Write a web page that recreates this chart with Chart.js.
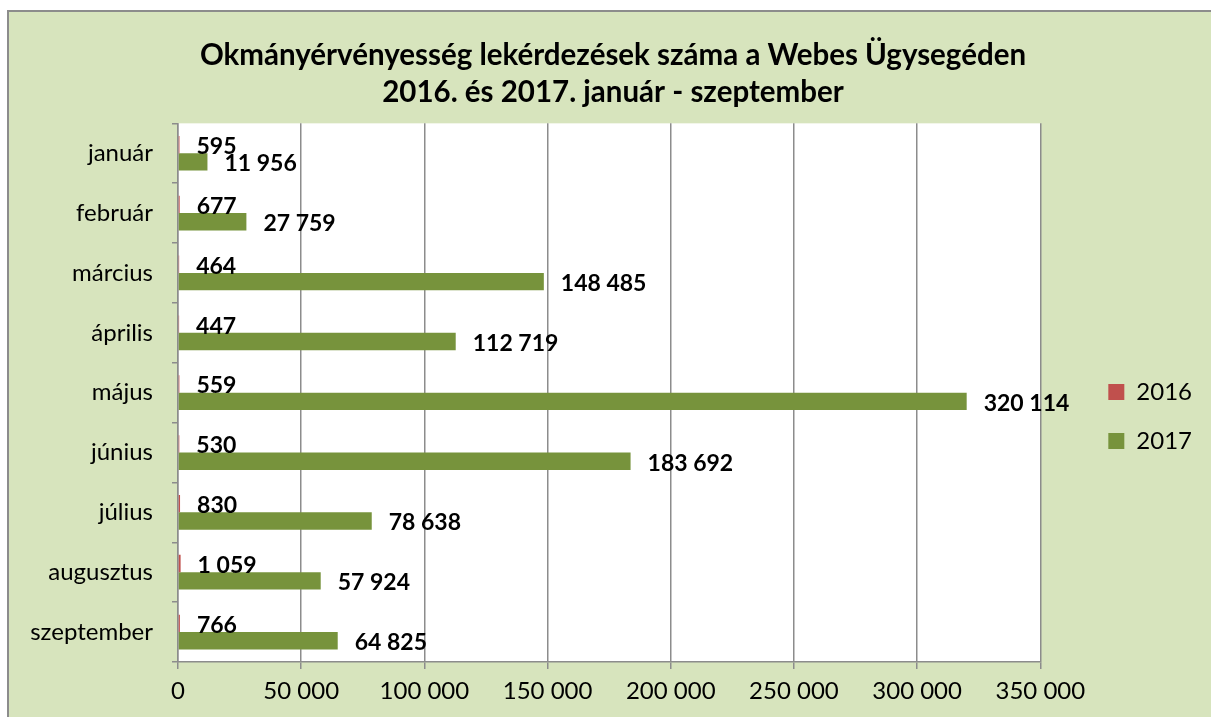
<!DOCTYPE html>
<html><head><meta charset="utf-8">
<script src="https://cdn.jsdelivr.net/npm/chart.js@4/dist/chart.umd.min.js"></script>
<style>html,body{margin:0;padding:0;background:#fff}#wrap{width:1211px;height:717px}</style>
</head><body><div id="wrap"><canvas id="c" width="1211" height="717"></canvas></div>
<script>
const categories = ['január','február','március','április','május','június','július','augusztus','szeptember'];
const values2016 = [595, 677, 464, 447, 559, 530, 830, 1059, 766];
const values2017 = [11956, 27759, 148485, 112719, 320114, 183692, 78638, 57924, 64825];
const seriesNames = ['2016', '2017'];
const titleLines = ['Okmányérvényesség lekérdezések száma a Webes Ügysegéden', '2016. és 2017. január - szeptember'];
const xMin = 0, xMax = 350000, xStep = 50000;

const fmt = v => String(v).replace(/\B(?=(\d{3})+(?!\d))/g, ' ');
const FONT = 'Lato, "Open Sans", sans-serif';
Chart.defaults.color = '#000';
Chart.defaults.font.family = FONT;

const framePlugin = {
  id: 'frame',
  beforeDraw(chart) {
    const ctx = chart.ctx, a = chart.chartArea;
    ctx.save();
    ctx.fillStyle = '#fff';
    ctx.fillRect(0, 0, chart.width, chart.height);
    ctx.fillStyle = '#D7E4BD';
    ctx.fillRect(8, 11, chart.width, chart.height);
    ctx.strokeStyle = '#8C8C8C';
    ctx.lineWidth = 2;
    ctx.strokeRect(8, 11, chart.width + 10, chart.height + 10);
    ctx.fillStyle = '#fff';
    ctx.fillRect(a.left, a.top, a.right - a.left, a.bottom - a.top);
    ctx.restore();
  }
};

const labelPlugin = {
  id: 'barLabels',
  afterDatasetsDraw(chart) {
    const ctx = chart.ctx;
    ctx.save();
    ctx.font = 'bold 23px ' + FONT;
    ctx.fillStyle = '#000';
    ctx.textAlign = 'left';
    ctx.textBaseline = 'middle';
    chart.data.datasets.forEach((ds, di) => {
      chart.getDatasetMeta(di).data.forEach((bar, i) => {
        ctx.fillText(fmt(ds.data[i]), bar.x + 17, bar.y + 2);
      });
    });
    ctx.restore();
  }
};

new Chart(document.getElementById('c'), {
  type: 'bar',
  data: {
    labels: categories,
    datasets: [
      { label: seriesNames[0], data: values2016, backgroundColor: '#C0504D', xAxisID: 'x', yAxisID: 'y' },
      { label: seriesNames[1], data: values2017, backgroundColor: '#77933C', xAxisID: 'x', yAxisID: 'y' }
    ]
  },
  options: {
    indexAxis: 'y',
    responsive: false,
    animation: false,
    devicePixelRatio: 1,
    categoryPercentage: 0.58,
    barPercentage: 1,
    layout: { padding: { left: 24, right: 9, top: 11, bottom: 0 } },
    plugins: {
      title: {
        display: true,
        text: titleLines,
        font: { size: 29.5, weight: 'bold', family: FONT, lineHeight: 1.26 },
        color: '#000',
        padding: { top: 25.5, bottom: 12.5 }
      },
      legend: {
        position: 'right',
        title: { display: true, text: ' ', font: { size: 10, lineHeight: 1 }, padding: 47.5 },
        labels: { boxWidth: 16, boxHeight: 16, padding: 25, font: { size: 24, family: FONT }, color: '#000' }
      },
      tooltip: { enabled: false }
    },
    scales: {
      x: {
        type: 'linear', position: 'bottom', min: xMin, max: xMax,
        ticks: { stepSize: xStep, callback: v => fmt(v), font: { size: 24, family: FONT }, color: '#000', padding: 8, maxRotation: 0 },
        grid: { color: '#8C8C8C', lineWidth: 1.5, tickLength: 7, drawOnChartArea: true },
        border: { color: '#8C8C8C', width: 1.5 },
        afterFit(s) { s.height = 55; }
      },
      y: {
        type: 'category', position: 'left',
        ticks: { font: { size: 24, family: FONT }, color: '#000', padding: 19 },
        grid: { offset: true, drawOnChartArea: false, color: '#8C8C8C', lineWidth: 1.5, tickLength: 6 },
        border: { color: '#8C8C8C', width: 1.5 },
        afterFit(s) { s.width = 154; }
      },
      spacer: {
        type: 'linear', position: 'right', display: true,
        ticks: { display: false }, grid: { display: false }, border: { display: false },
        afterFit(s) { s.width = 43; }
      }
    }
  },
  plugins: [framePlugin, labelPlugin]
});
</script></body></html>
